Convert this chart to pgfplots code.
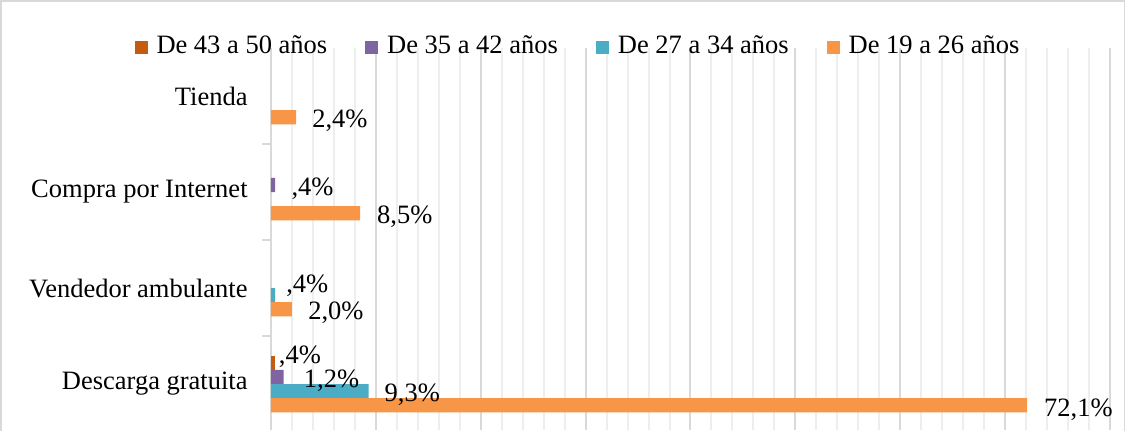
\documentclass[border=0pt]{standalone}
\usepackage{fontspec}
\setmainfont{Liberation Serif}
\usepackage{pgfplots}
\usepackage{pgfplotstable}
\pgfplotsset{compat=1.18}
\definecolor{cA}{HTML}{C55A11}
\definecolor{cB}{HTML}{8064A2}
\definecolor{cC}{HTML}{4BACC6}
\definecolor{cD}{HTML}{F79646}
\definecolor{gmaj}{HTML}{D9D9D9}
\definecolor{gmin}{HTML}{EEEEEE}
% y: 0 Descarga gratuita, 1 Vendedor ambulante, 2 Compra por Internet, 3 Tienda
\pgfplotstableread{
x y dx dy lab
0.4 0 1.65 -0.15 ,4
}\tA
\pgfplotstableread{
x y dx dy lab
1.2 0 10 -5.3 1,2
0.4 2 8 -5.35 ,4
}\tB
\pgfplotstableread{
x y dx dy lab
9.3 0 7.85 -5.25 9,3
0.4 1 5.35 1.35 ,4
}\tC
\pgfplotstableread{
x y dx dy lab
72.1 0 8.35 -5.65 72,1
2.0 1 8 -5.2 2,0
8.5 2 8.35 -4.9 8,5
2.4 3 7.85 -4.85 2,4
}\tD
\begin{document}
\fontsize{13.25}{16}\selectfont
\begin{tikzpicture}
\useasboundingbox (-135.5pt,0pt) rectangle (427.5pt,215pt);
\draw[gmaj, line width=0.6pt] (-135pt,-5pt) -- (-135pt,214.5pt) -- (426.75pt,214.5pt) -- (426.75pt,-5pt);
\begin{axis}[
  at={(0,0)}, anchor=south west,
  scale only axis, width=419.5pt, height=191pt,
  xbar, bar width=0.148,
  xmin=0, xmax=80, ymin=-0.479, ymax=3.5,
  xtick={0,10,...,80}, xticklabels={}, minor x tick num=4,
  xmajorgrids, xminorgrids,
  major x grid style={gmaj, line width=1pt},
  minor x grid style={gmin, line width=1pt},
  xtick style={draw=none},
  ytick={0,1,2,3},
  yticklabels={Descarga gratuita,Vendedor ambulante,Compra por Internet,Tienda},
  minor ytick={0.5,1.5,2.5},
  ytick pos=left, tick align=outside,
  major tick length=0pt, minor tick length=4.5pt,
  ytick style={gmaj, line width=0.8pt},
  yticklabel style={anchor=east, inner sep=0pt, xshift=-11.5pt},
  separate axis lines,
  x axis line style={draw=none},
  y axis line style={gmaj, line width=1pt},
  clip=false,
  legend columns=4,
  legend style={at={(0.3647,1.0026)}, anchor=center, draw=none, fill=none,
    nodes={inner sep=0pt},
    /tikz/every odd column/.append style={column sep=4.5pt},
    /tikz/every even column/.append style={column sep=19pt}},
  legend image code/.code={\fill[#1] (0pt,-3.25pt) rectangle (6.5pt,3.25pt);},
  point meta=explicit symbolic,
  nodes near coords={\pgfplotspointmeta\%},
  visualization depends on={\thisrow{dx}\as\dx},
  visualization depends on={\thisrow{dy}\as\dy},
  every node near coord/.append style={anchor=base west, inner sep=0pt, xshift=\dx pt, yshift=\dy pt, text=black},
]
\addplot[fill=cA, draw=none, bar shift=0.222] table[x=x, y=y, meta=lab] {\tA};
\addlegendentry{De 43 a 50 años}
\addplot[fill=cB, draw=none, bar shift=0.074] table[x=x, y=y, meta=lab] {\tB};
\addlegendentry{De 35 a 42 años}
\addplot[fill=cC, draw=none, bar shift=-0.074] table[x=x, y=y, meta=lab] {\tC};
\addlegendentry{De 27 a 34 años}
\addplot[fill=cD, draw=none, bar shift=-0.222] table[x=x, y=y, meta=lab] {\tD};
\addlegendentry{De 19 a 26 años}
\end{axis}
\end{tikzpicture}
\end{document}
